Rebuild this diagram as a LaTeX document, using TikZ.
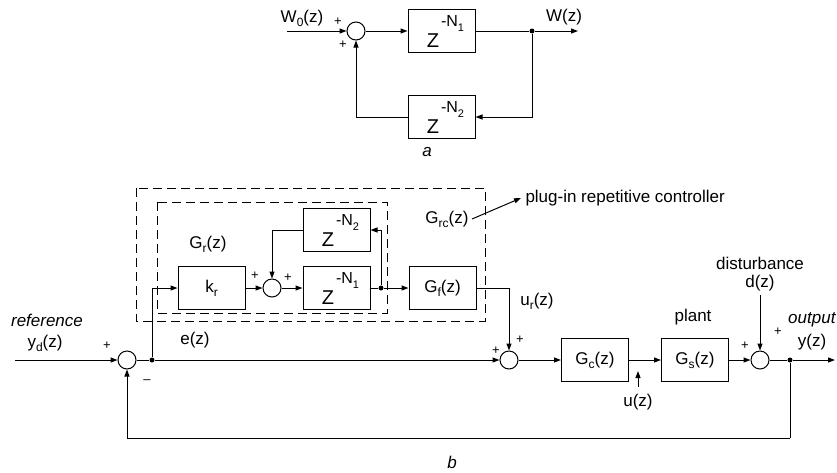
\documentclass[tikz,border=0pt]{standalone}
\usepackage{fontspec}
\setmainfont{Liberation Sans}
\usetikzlibrary{arrows.meta}
\newcommand\zpow[1]{\hspace*{8pt}{\fontsize{20}{22}\selectfont Z}\kern2pt\raisebox{21pt}{\fontsize{16}{16}\selectfont -N\raisebox{-5pt}{\fontsize{11}{11}\selectfont #1}}}
\newcommand\sbs[1]{\raisebox{-4pt}{\fontsize{12}{12}\selectfont #1}}
\begin{document}
\begin{tikzpicture}[x=1pt,y=-1pt, line width=1pt,
  >={Triangle[length=7pt,width=5pt]},
  blk/.style={draw, minimum width=67pt, minimum height=43pt, inner sep=0pt, font=\fontsize{17}{20}\selectfont},
  sumc/.style={draw, circle, minimum size=18pt, inner sep=0pt},
  lbl/.style={font=\fontsize{17}{20}\selectfont, inner sep=0pt},
  pm/.style={font=\fontsize{13}{14}\selectfont, inner sep=0pt},
  dashbox/.style={draw, line width=0.9pt, dash pattern=on 9pt off 5pt},
  dotc/.style={fill, circle, inner sep=0pt, minimum size=5pt}]
\useasboundingbox (0,0) rectangle (837,472);
% ---------- diagram a ----------
\node[sumc] (as) at (356,31) {};
\node[blk] (a1) at (441.5,31) {\zpow{1}};
\node[blk] (a2) at (441.5,117) {\zpow{2}};
\node[dotc] (aj) at (532,31) {};
\coordinate (ain) at (287,31);
\coordinate (aout) at (578,31);
\draw[->] (ain) -- (as);
\draw[->] (as) -- (a1);
\draw (a1) -- (aj);
\draw[->] (aj) -- (aout);
\draw[->] (aj) |- (a2);
\draw[->] (a2) -| (as);
\node[lbl] (w0) at (302,18) {W\sbs{0}(z)};
\node[lbl] (w) at (564,17) {W(z)};
\node[pm] (ap1) at (338,22) {+};
\node[pm] (ap2) at (343,45) {+};
\node[lbl] (la) at (427,152) {\itshape a};
% ---------- diagram b ----------
\draw[dashbox] (136,188) rectangle (485,321);
\draw[dashbox] (157,202) rectangle (387,313);
\node[blk] (kr) at (211.5,288) {k\sbs{r}};
\node[sumc] (s2) at (272,288) {};
\node[blk] (n1) at (336.5,288) {\zpow{1}};
\node[blk] (n2) at (336.5,230) {\zpow{2}};
\node[dotc] (jb) at (381,288) {};
\node[blk] (gf) at (442.5,288) {G\sbs{f}(z)};
\node[sumc] (s1) at (127,360) {};
\node[dotc] (jin) at (152,360) {};
\node[sumc] (s3) at (509,360) {};
\node[blk] (gc) at (595,360) {G\sbs{c}(z)};
\node[blk] (gs) at (695,360) {G\sbs{s}(z)};
\node[sumc] (s4) at (760,360) {};
\node[dotc] (jout) at (790,360) {};
\coordinate (bin) at (15,360);
\coordinate (bout) at (835,360);
\coordinate (fb) at (790,438);
\coordinate (utip) at (638,371);
\coordinate (ubase) at (638,387);
% connectors
\draw[->] (bin) -- (s1);
\draw (s1) -- (jin);
\draw[->] (jin) -- (s3);
\draw[->] (jin) |- (kr);
\draw[->] (kr) -- (s2);
\draw[->] (s2) -- (n1);
\draw (n1) -- (jb);
\draw[->] (jb) -- (gf);
\draw[->] (jb) |- (n2);
\draw[->] (n2) -| (s2);
\draw[->] (gf) -| (s3);
\draw[->] (s3) -- (gc);
\draw[->] (gc) -- (gs);
\draw[->] (gs) -- (s4);
\draw (s4) -- (jout);
\draw[->] (jout) -- (bout);
\draw (jout) -- (fb);
\draw[->] (fb) -| (s1);
\draw[->] (ubase) -- (utip);
% labels
\node[lbl] (ref) at (47,320) {\itshape reference};
\node[lbl] (yd) at (45,343) {y\sbs{d}(z)};
\node[pm] (bp1) at (107,346) {+};
\node[pm] (bm1) at (147,382) {--};
\node[lbl] (ez) at (195,340) {e(z)};
\node[lbl] (grz) at (208,244) {G\sbs{r}(z)};
\node[pm] (bp2) at (255,276) {+};
\node[pm] (bp3) at (288,278) {+};
\node[lbl] (grc) at (447,219) {G\sbs{rc}(z)};
\node[lbl, anchor=west] (plug) at (525,198) {plug-in repetitive controller};
\draw[->] ([xshift=3pt]grc.east) -- ([xshift=-4pt]plug.west);
\node[lbl] (urz) at (537,301) {u\sbs{r}(z)};
\node[pm] (bp4) at (496,351) {+};
\node[pm] (bp5) at (520,340) {+};
\node[lbl] (uz) at (638,402) {u(z)};
\node[lbl] (plant) at (693,317) {plant};
\node[pm] (bp6) at (745,346) {+};
\node[pm] (bp7) at (778,332) {+};
\node[lbl] (dist) at (760,263) {disturbance};
\node[lbl] (dz) at (760,283) {d(z)};
\draw[->] ([yshift=-4pt]dz.south) -- (s4);
\node[lbl, anchor=east] (outp) at (836,320) {\itshape output};
\node[lbl] (yz) at (812,342) {y(z)};
\node[lbl] (lb) at (452,462) {\itshape b};
\end{tikzpicture}
\end{document}
